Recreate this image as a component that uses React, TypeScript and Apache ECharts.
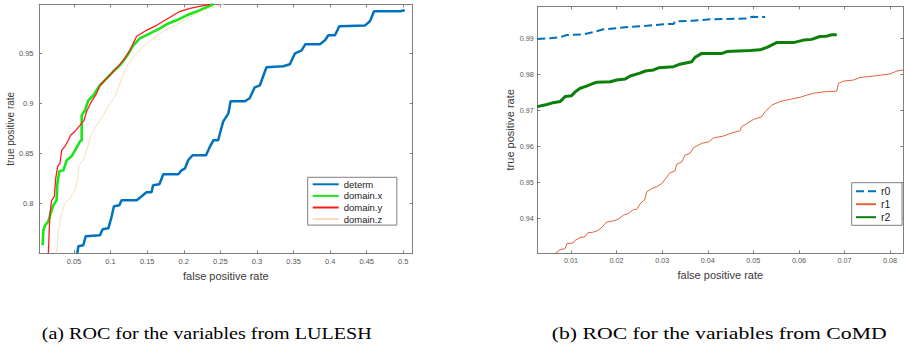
import React, { useEffect, useRef } from "react";
import * as echarts from "echarts";

// ---------- data ----------
const leftXTicks = [0.05, 0.1, 0.15, 0.2, 0.25, 0.3, 0.35, 0.4, 0.45, 0.5];
const leftYTicks = [0.8, 0.85, 0.9, 0.95];
const rightXTicks = [0.01, 0.02, 0.03, 0.04, 0.05, 0.06, 0.07, 0.08];
const rightYTicks = [0.94, 0.95, 0.96, 0.97, 0.98, 0.99];

const leftNames = ["determ", "domain.x", "domain.y", "domain.z"];
const rightNames = ["r0", "r1", "r2"];

const determ: [number, number][] = [
  [0.0545, 0.75], [0.056, 0.757], [0.0627, 0.758], [0.066, 0.767], [0.0855, 0.768],
  [0.0891, 0.774], [0.097, 0.775], [0.1015, 0.787], [0.1046, 0.797], [0.112, 0.798],
  [0.115, 0.803], [0.1357, 0.803], [0.1425, 0.807], [0.149, 0.811], [0.156, 0.811],
  [0.158, 0.818], [0.1667, 0.819], [0.172, 0.829], [0.1925, 0.829], [0.197, 0.833],
  [0.2017, 0.835], [0.206, 0.843], [0.212, 0.848], [0.2304, 0.848], [0.236, 0.857],
  [0.2404, 0.863], [0.247, 0.863], [0.252, 0.877], [0.254, 0.882], [0.261, 0.89],
  [0.264, 0.902], [0.2836, 0.902], [0.29, 0.905], [0.297, 0.916], [0.304, 0.918],
  [0.313, 0.936], [0.336, 0.937], [0.345, 0.939], [0.352, 0.95], [0.361, 0.953],
  [0.366, 0.959], [0.386, 0.959], [0.393, 0.963], [0.3975, 0.968], [0.4066, 0.968],
  [0.4125, 0.977], [0.4475, 0.9777], [0.4543, 0.982], [0.46, 0.992], [0.4954, 0.992],
  [0.502, 0.993],
];

const domainX: [number, number][] = [
  [0.0072, 0.758], [0.0081, 0.773], [0.0104, 0.778], [0.015, 0.782], [0.0181, 0.79],
  [0.0218, 0.798], [0.0263, 0.803], [0.0273, 0.82], [0.03, 0.832], [0.0355, 0.833],
  [0.04, 0.843], [0.0468, 0.847], [0.0514, 0.853], [0.0582, 0.862], [0.0605, 0.863],
  [0.0605, 0.888], [0.065, 0.893], [0.0696, 0.903], [0.0764, 0.908], [0.0855, 0.918],
  [0.0946, 0.925], [0.1037, 0.932], [0.1128, 0.938], [0.122, 0.947], [0.131, 0.958],
  [0.14, 0.965], [0.154, 0.97], [0.1674, 0.975], [0.1766, 0.979], [0.19, 0.983],
  [0.204, 0.988], [0.222, 0.993], [0.2404, 0.999],
];

const domainY: [number, number][] = [
  [0.015, 0.75], [0.016, 0.77], [0.0172, 0.79], [0.0195, 0.803], [0.0232, 0.807],
  [0.025, 0.825], [0.0277, 0.837], [0.0309, 0.84], [0.0332, 0.853], [0.0377, 0.857],
  [0.0423, 0.863], [0.0455, 0.868], [0.0514, 0.872], [0.0582, 0.878], [0.0637, 0.883],
  [0.0673, 0.892], [0.074, 0.902], [0.081, 0.91], [0.0855, 0.918], [0.099, 0.928],
  [0.108, 0.935], [0.1174, 0.943], [0.1265, 0.953], [0.1356, 0.967], [0.149, 0.973],
  [0.1629, 0.978], [0.1766, 0.984], [0.1857, 0.988], [0.195, 0.992], [0.2085, 0.995],
  [0.222, 0.997], [0.236, 0.999],
];

const domainZ: [number, number][] = [
  [0.0263, 0.75], [0.0286, 0.773], [0.0332, 0.79], [0.0377, 0.8], [0.0445, 0.805],
  [0.0514, 0.813], [0.0546, 0.823], [0.0568, 0.838], [0.0627, 0.843], [0.0673, 0.853],
  [0.074, 0.87], [0.081, 0.878], [0.09, 0.888], [0.099, 0.9], [0.106, 0.907],
  [0.1128, 0.92], [0.1197, 0.933], [0.1265, 0.942], [0.1357, 0.95], [0.1447, 0.957],
  [0.1584, 0.965], [0.172, 0.972], [0.1857, 0.977], [0.1994, 0.983], [0.213, 0.988],
  [0.2267, 0.993], [0.2404, 0.996], [0.2545, 0.999],
];

const r0: [number, number][] = [
  [0.0026, 0.9898], [0.0054, 0.99], [0.0076, 0.9903], [0.0091, 0.9909], [0.0127, 0.9911],
  [0.0149, 0.9917], [0.0171, 0.9925], [0.02, 0.9928], [0.0229, 0.9932], [0.0266, 0.9935],
  [0.0303, 0.9939], [0.0325, 0.994], [0.0328, 0.9947], [0.0368, 0.9949], [0.0405, 0.9953],
  [0.0442, 0.9954], [0.0486, 0.9955], [0.0497, 0.996], [0.0526, 0.9959],
];

const r1: [number, number][] = [
  [0.0065, 0.9301], [0.0076, 0.9312], [0.0087, 0.9315], [0.0091, 0.9329], [0.0105, 0.9331],
  [0.0109, 0.9338], [0.012, 0.9346], [0.0131, 0.9348], [0.0137, 0.9359], [0.0149, 0.9361],
  [0.016, 0.9366], [0.0168, 0.9375], [0.0178, 0.9389], [0.0193, 0.9392], [0.0204, 0.9397],
  [0.0215, 0.9408], [0.0226, 0.9413], [0.0237, 0.9424], [0.0244, 0.9424], [0.0251, 0.9439],
  [0.0262, 0.9452], [0.0266, 0.9473], [0.0277, 0.9482], [0.0288, 0.9487], [0.0299, 0.9496],
  [0.0308, 0.951], [0.0317, 0.9526], [0.0328, 0.9531], [0.0332, 0.955], [0.0343, 0.9556],
  [0.035, 0.9575], [0.0361, 0.958], [0.0369, 0.9596], [0.0387, 0.9608], [0.0402, 0.9612],
  [0.0413, 0.9623], [0.0434, 0.9628], [0.0453, 0.9637], [0.0471, 0.9643], [0.0474, 0.9654],
  [0.0486, 0.9663], [0.05, 0.9674], [0.0518, 0.9682], [0.0526, 0.9696], [0.054, 0.9714],
  [0.0559, 0.9724], [0.058, 0.973], [0.0603, 0.9736], [0.0617, 0.9742], [0.0632, 0.9747],
  [0.0654, 0.9751], [0.0683, 0.9753], [0.0687, 0.9775], [0.0698, 0.9781], [0.072, 0.9784],
  [0.0734, 0.9791], [0.0764, 0.9795], [0.08, 0.9801], [0.0815, 0.9809], [0.0831, 0.9812],
];

const r2: [number, number][] = [
  [0.0026, 0.971], [0.0047, 0.9716], [0.0061, 0.9721], [0.0076, 0.9724], [0.0087, 0.9738],
  [0.0101, 0.974], [0.0109, 0.9751], [0.012, 0.9761], [0.0134, 0.9767], [0.0146, 0.9773],
  [0.0157, 0.9778], [0.0186, 0.9779], [0.02, 0.9784], [0.0219, 0.9787], [0.023, 0.9795],
  [0.0251, 0.9803], [0.0263, 0.9809], [0.0281, 0.9812], [0.0292, 0.9818], [0.0325, 0.9821],
  [0.0339, 0.9828], [0.0365, 0.9835], [0.0372, 0.9847], [0.0387, 0.9858], [0.0431, 0.9858],
  [0.0442, 0.9863], [0.0493, 0.9866], [0.0515, 0.9868], [0.053, 0.9875], [0.0551, 0.9888],
  [0.0588, 0.9888], [0.061, 0.9895], [0.0628, 0.9897], [0.0646, 0.9905], [0.0661, 0.9906],
  [0.0672, 0.991], [0.0683, 0.991],
];

const captionA = "(a) ROC for the variables from LULESH";
const captionB = "(b) ROC for the variables from CoMD";

// ---------- styling ----------
const SANS = '"Liberation Sans", Arial, Helvetica, sans-serif';
const SERIF = '"Liberation Serif", "Times New Roman", serif';
const AXIS_COLOR = "#7f7f7f";
const LABEL_COLOR = "#555555";
const NAME_COLOR = "#3a3a3a";

const fmt = (v: number) => String(+Number(v).toFixed(3));

function xAxis(grid: number, min: number, max: number, ticks: number[], main: boolean, labelSize: number) {
  return {
    type: "value",
    gridIndex: grid,
    min,
    max,
    position: main ? "bottom" : "top",
    axisLine: { show: true, onZero: false, lineStyle: { color: AXIS_COLOR, width: 1 } },
    axisTick: { show: true, inside: true, length: 3, customValues: ticks, lineStyle: { color: AXIS_COLOR } },
    axisLabel: {
      show: main,
      customValues: ticks,
      formatter: fmt,
      fontSize: labelSize,
      fontFamily: SANS,
      color: LABEL_COLOR,
      margin: 4,
    },
    splitLine: { show: false },
    name: main ? "false positive rate" : "",
    nameLocation: "middle",
    nameGap: 13,
    nameTextStyle: { fontSize: 11, fontFamily: SANS, color: NAME_COLOR },
  };
}

function yAxis(grid: number, min: number, max: number, ticks: number[], main: boolean, labelSize: number, margin: number, nameSize: number, nameGap: number) {
  return {
    type: "value",
    gridIndex: grid,
    min,
    max,
    position: main ? "left" : "right",
    axisLine: { show: true, onZero: false, lineStyle: { color: AXIS_COLOR, width: 1 } },
    axisTick: { show: true, inside: true, length: 3, customValues: ticks, lineStyle: { color: AXIS_COLOR } },
    axisLabel: {
      show: main,
      customValues: ticks,
      formatter: fmt,
      fontSize: labelSize,
      fontFamily: SANS,
      color: LABEL_COLOR,
      margin,
    },
    splitLine: { show: false },
    name: main ? "true positive rate" : "",
    nameLocation: "middle",
    nameGap,
    nameTextStyle: { fontSize: nameSize, fontFamily: SANS, color: NAME_COLOR },
  };
}

function lineSeries(name: string, data: [number, number][], axis: number, color: string, width: number, type: string = "solid") {
  return {
    type: "line",
    name,
    xAxisIndex: axis,
    yAxisIndex: axis,
    data,
    symbol: "none",
    showSymbol: false,
    clip: true,
    lineStyle: { color, width, type },
    itemStyle: { color },
    emphasis: { disabled: true },
  };
}

const legendBase = {
  orient: "vertical",
  itemHeight: 10,
  backgroundColor: "#ffffff",
  borderColor: AXIS_COLOR,
  borderWidth: 1,
  borderRadius: 0,
  selectedMode: false,
  itemStyle: { opacity: 0 },
};

export default function App() {
  const ref = useRef<HTMLDivElement>(null);

  useEffect(() => {
    if (!ref.current) return;
    const chart = echarts.init(ref.current, null, { renderer: "svg" });

    const option: any = {
      animation: false,
      backgroundColor: "#ffffff",
      grid: [
        { left: 39, top: 4.3, width: 373.7, height: 249 },
        { left: 537.3, top: 6.3, width: 366, height: 247 },
      ],
      xAxis: [
        xAxis(0, 0.0022, 0.5128, leftXTicks, true, 7.5),
        xAxis(1, 0.0026, 0.0829, rightXTicks, true, 7.2),
        xAxis(0, 0.0022, 0.5128, leftXTicks, false, 7.5),
        xAxis(1, 0.0026, 0.0829, rightXTicks, false, 7.2),
      ],
      yAxis: [
        yAxis(0, 0.75, 0.999, leftYTicks, true, 7.5, 5.5, 10, 17),
        yAxis(1, 0.9302, 0.9989, rightYTicks, true, 7.2, 3.5, 11, 20),
        yAxis(0, 0.75, 0.999, leftYTicks, false, 7.5, 5.5, 10, 17),
        yAxis(1, 0.9302, 0.9989, rightYTicks, false, 7.2, 3.5, 11, 20),
      ],
      legend: [
        {
          ...legendBase,
          data: leftNames,
          left: 307.7,
          top: 177.3,
          itemWidth: 26,
          itemGap: 1.6,
          padding: [2, 14.6, 1, 4],
          textStyle: { fontSize: 9.5, fontFamily: SANS, color: "#222222" },
        },
        {
          ...legendBase,
          data: rightNames,
          left: 851.7,
          top: 182.7,
          itemWidth: 20,
          itemGap: 2,
          padding: [3, 11.7, 2.6, 3.3],
          textStyle: { fontSize: 10.5, fontFamily: SANS, color: "#222222" },
        },
      ],
      series: [
        lineSeries(leftNames[0], determ, 0, "#0072BD", 2.5),
        lineSeries(leftNames[1], domainX, 0, "#19e619", 2.6),
        lineSeries(leftNames[2], domainY, 0, "#ff1a1a", 1.3),
        lineSeries(leftNames[3], domainZ, 0, "#f7dcbc", 1),
        lineSeries(rightNames[0], r0, 1, "#0072BD", 2, "dashed"),
        lineSeries(rightNames[1], r1, 1, "#e0643a", 1),
        lineSeries(rightNames[2], r2, 1, "#0a7f0a", 3),
      ],
      graphic: [
        {
          type: "text",
          x: 206.7,
          y: 334,
          scaleX: 1.255,
          style: {
            text: captionA,
            fontSize: 16,
            fontFamily: SERIF,
            fill: "#000000",
            align: "center",
            verticalAlign: "middle",
          },
        },
        {
          type: "text",
          x: 719.2,
          y: 334,
          scaleX: 1.356,
          style: {
            text: captionB,
            fontSize: 16,
            fontFamily: SERIF,
            fill: "#000000",
            align: "center",
            verticalAlign: "middle",
          },
        },
      ],
    };

    chart.setOption(option);
    return () => chart.dispose();
  }, []);

  return (
    <div
      ref={ref}
      style={{ position: "fixed", left: 0, top: 0, width: 904, height: 353, background: "#fff" }}
    />
  );
}
